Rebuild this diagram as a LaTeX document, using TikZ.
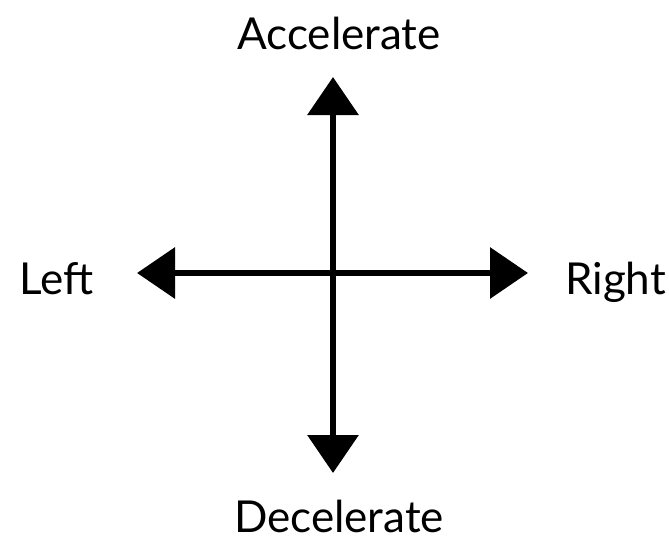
\documentclass[tikz,border=0pt]{standalone}
\usepackage{fontspec}
\setmainfont{Lato}
\usetikzlibrary{arrows.meta}
\tikzset{
  axis/.style={line width=6.5pt, {Triangle[width=50pt,length=38pt]}-{Triangle[width=50pt,length=38pt]}},
  lbl/.style={font=\fontsize{44}{50}\selectfont, inner sep=0pt}
}
\begin{document}
\begin{tikzpicture}[x=1pt, y=-1pt, line join=miter]
				\useasboundingbox (0,0) rectangle (669,543);
				\coordinate (T) at (333,77);
				\coordinate (B) at (333,473);
				\coordinate (L) at (137,273);
				\coordinate (R) at (528,273);
				\draw[axis] (B) -- (T);
				\draw[axis] (L) -- (R);
				\node[lbl, anchor=base] (acc) at (339,49) {Accelerate};
				\node[lbl, anchor=base] (dec) at (339,532) {Decelerate};
				\node[lbl, anchor=base west] (left) at (19,294) {Left};
				\node[lbl, anchor=base west] (right) at (565,294) {Right};
			\end{tikzpicture}
\end{document}
